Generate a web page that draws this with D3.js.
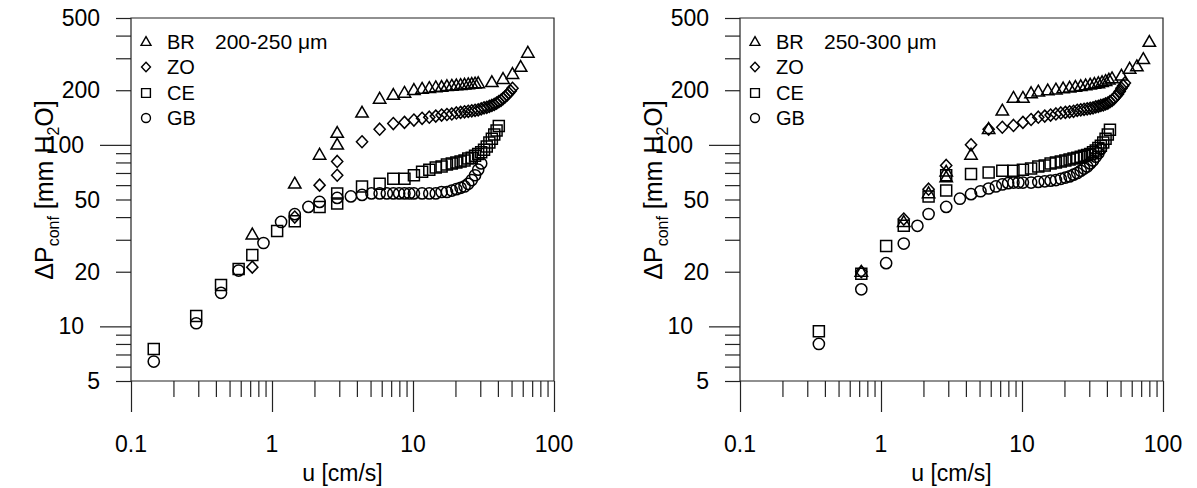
<!DOCTYPE html>
<html><head><meta charset="utf-8">
<script src="https://cdn.jsdelivr.net/npm/d3@7"></script>
<style>body{margin:0;background:#fff}svg{display:block;font-family:"Liberation Sans",Arial,sans-serif}</style>
</head><body><svg id="c" width="1197" height="488"></svg>
<script>
const seriesNames = ["BR","ZO","CE","GB"];
const panelTitles = ["200-250 \u03bcm","250-300 \u03bcm"];
const xTickValues = [0.1,1,10,100];
const xTickLabels = ["0.1","1","10","100"];
const yTickValues = [5,10,20,50,100,200,500];
const yTickLabels = ["5","10","20","50","100","200","500"];
const xTitle = "u [cm/s]";

// Left panel (200-250 um)
const L_BR_u = [0.725,1.45,2.175,2.9,2.9,4.35,5.8,7.25,8.7,10.15,11.6,13.05,14.5,15.95,17.4,18.85,20.3,21.75,23.2,24.65,26.1,27.55,29.0,36.25,43.5,50.75,58.0,65.25];
const L_BR_p = [32,61,88,100,116,150,179,188,193,200,203,205,207,208,210,211,212,213,214,215,216,217,218,221,230,245,268,321];
const L_ZO_u = [0.725,1.45,2.175,2.9,2.9,4.35,5.8,7.25,8.7,10.15,11.6,13.05,14.5,15.95,17.4,18.85,20.3,21.75,23.2,24.65,26.1,27.55,29.0,30.45,31.9,33.35,34.8,36.25,37.7,39.15,40.6,42.05,43.5,44.95,46.4,47.85,49.3,50.75];
const L_ZO_p = [21.2,40,60,68,81,104,122,131,133,137,140,142,144,146,147,148,150,151,152,153,154,155,156,158,160,161,163,165,167,170,173,176,180,184,188,193,198,205];
const L_CE_u = [0.145,0.29,0.435,0.58,0.725,1.0875,1.45,2.175,2.9,2.9,4.35,5.8,7.25,8.7,10.15,11.6,13.05,14.5,15.95,17.4,18.85,20.3,21.75,23.2,24.65,26.1,27.55,29.0,30.45,31.9,33.35,34.8,36.25,37.7,39.15,40.6];
const L_CE_p = [7.5,11.4,16.9,20.7,24.7,33.5,38,45.5,47.5,54,59,61,65,65,68,71,73,75,76,78,79,80,81,82,84,85,87,89,91,94,98,103,108,114,120,127];
const L_GB_u = [0.145,0.29,0.435,0.58,0.87,1.16,1.45,1.8125,2.175,2.9,3.625,4.35,5.075,5.8,6.525,7.25,7.975,8.7,9.425,10.15,11.6,13.05,14.5,15.95,17.4,18.85,20.3,21.75,23.2,24.65,26.1,27.55,29.0,30.45];
const L_GB_p = [6.4,10.4,15.3,20.3,28.8,37.6,41.5,45.5,48.5,51,52,53,54,54,54,54,54,54,54,54,54,54,54,55,55,56,57,58,59,61,64,68,73,79];

// Right panel (250-300 um)
const R_BR_u = [0.725,1.45,2.175,2.9,2.9,4.35,5.8,7.25,8.7,10.15,11.6,13.05,15.225,17.4,19.575,21.75,23.925,26.1,28.275,30.45,32.625,34.8,36.975,39.15,41.325,43.5,50.75,58.0,65.25,72.5,80.0];
const R_BR_p = [19.9,37.5,54,66,71,88,122,154,181,181,192,196,199,201,204,206,208,210,212,214,216,218,221,224,228,232,240,262,270,296,368];
const R_ZO_u = [0.725,1.45,2.175,2.9,4.35,5.8,7.25,8.7,10.15,11.6,13.05,14.5,15.95,17.4,18.85,20.3,21.75,23.2,24.65,26.1,27.55,29.0,30.45,31.9,33.35,34.8,36.25,37.7,39.15,40.6,42.05,43.5,44.95,46.4,47.85,49.3,50.75,52.2,53.65];
const R_ZO_p = [20,39,57,77,100,122,125,128,133,138,142,144,146,148,150,151,152,153,155,156,157,158,159,160,162,163,165,166,168,170,173,176,180,185,190,197,205,212,219];
const R_CE_u = [0.3625,0.725,1.0875,1.45,2.175,2.9,2.9,4.35,5.8,7.25,8.7,10.15,11.6,13.05,14.5,15.95,17.4,18.85,20.3,21.75,23.2,24.65,26.1,27.55,29.0,30.45,31.9,33.35,34.8,36.25,37.7,39.15,40.6,42.05];
const R_CE_p = [9.4,19.5,27.7,35.8,52,56,68,69,70.5,72,72,73,74,76,77,79,80,81,82,83,84,85,86,87,88,89,91,93,96,99,103,108,114,121];
const R_GB_u = [0.3625,0.725,1.0875,1.45,1.8125,2.175,2.9,3.625,4.35,5.075,5.8,6.525,7.25,7.975,8.7,9.425,10.15,11.6,13.05,14.5,15.95,17.4,18.85,20.3,21.75,23.2,24.65,26.1,27.55,29.0,30.45,31.9,33.35,34.8,36.25];
const R_GB_p = [8.0,16,22.3,28.6,35.8,41.6,45.5,50.5,53.5,55.5,57.5,59,60.5,61.5,62,62,62,62,62.5,63,63.5,64,65,66,67,68.5,70,72,74,76,79,82,86,90,95];

const panels = [
  {title: panelTitles[0], series: [[L_BR_u,L_BR_p],[L_ZO_u,L_ZO_p],[L_CE_u,L_CE_p],[L_GB_u,L_GB_p]], x0:131, x1:554},
  {title: panelTitles[1], series: [[R_BR_u,R_BR_p],[R_ZO_u,R_ZO_p],[R_CE_u,R_CE_p],[R_GB_u,R_GB_p]], x0:740, x1:1163}
];
const Y0 = 18, Y1 = 381;

function shapePath(k, s) {
  if (k === 0) return `M0,${-6.6*s}L${6.2*s},${4.2*s}L${-6.2*s},${4.2*s}Z`;
  if (k === 1) return `M0,${-6*s}L${5.6*s},0L0,${6*s}L${-5.6*s},0Z`;
  if (k === 2) return `M${-5.5*s},${-5.5*s}h${11*s}v${11*s}h${-11*s}Z`;
  const r = 5.6*s;
  return `M${r},0A${r},${r} 0 1,1 ${-r},0A${r},${r} 0 1,1 ${r},0Z`;
}

const svg = d3.select("#c");
const minorX = [];
[0.1,1,10].forEach(d => { for (let i=2;i<=9;i++) minorX.push(+(d*i).toFixed(3)); });
const minorY = [6,7,8,9,30,40,60,70,80,90,300,400];
const shortY = [5,20,50,200,500];

panels.forEach(P => {
  const x = d3.scaleLog().domain([0.1,100]).range([P.x0, P.x1]);
  const y = d3.scaleLog().domain([5,500]).range([Y1, Y0]);
  const g = svg.append("g");

  g.append("path").attr("d", `M${P.x0},${Y1}H${P.x1}V${Y0}H${P.x0}Z`).attr("fill","none").attr("stroke","#222").attr("stroke-width",1.2);

  const ax1 = g.append("g").attr("transform",`translate(0,${Y1})`).call(d3.axisBottom(x).tickValues(xTickValues).tickSize(31).tickFormat(""));
  const ax2 = g.append("g").attr("transform",`translate(0,${Y1})`).call(d3.axisBottom(x).tickValues(minorX).tickSize(16).tickFormat(""));
  const ay1 = g.append("g").attr("transform",`translate(${P.x0},0)`).call(d3.axisLeft(y).tickValues([10,100]).tickSize(31).tickFormat(""));
  const ay2 = g.append("g").attr("transform",`translate(${P.x0},0)`).call(d3.axisLeft(y).tickValues(shortY.concat(minorY)).tickSize(15).tickFormat(""));
  [ax1,ax2,ay1,ay2].forEach(a => { a.select(".domain").remove(); a.selectAll("line").attr("stroke","#222").attr("stroke-width",1.2); });

  g.selectAll(".xl").data(xTickValues).enter().append("text")
    .attr("x", d => x(d)).attr("y", Y1 + 71).attr("text-anchor","middle")
    .style("font-size","23px").text((d,i) => xTickLabels[i]);
  g.append("text").attr("x", (P.x0+P.x1)/2).attr("y", Y1 + 100).attr("text-anchor","middle")
    .style("font-size","23px").text(xTitle);

  g.selectAll(".yl").data(yTickValues).enter().append("text")
    .attr("x", d => P.x0 - ((d===10||d===100) ? 47 : 31))
    .attr("y", d => y(d) + 8).attr("text-anchor","end")
    .style("font-size","23px").text((d,i) => yTickLabels[i]);

  const t = g.append("text").attr("transform",`translate(${P.x0-78},${190}) rotate(-90)`).attr("text-anchor","middle").style("font-size","25px");
  t.append("tspan").text("\u0394P");
  t.append("tspan").attr("dy",6).style("font-size","16px").text("conf");
  t.append("tspan").attr("dy",-6).text(" [mm H");
  t.append("tspan").attr("dy",6).style("font-size","16px").text("2");
  t.append("tspan").attr("dy",-6).text("O]");

  P.series.forEach((s, k) => {
    const pts = s[0].map((u,i) => [u, s[1][i]]);
    g.append("g").selectAll("path").data(pts).enter().append("path")
      .attr("transform", d => `translate(${x(d[0])},${y(d[1])})`)
      .attr("d", shapePath(k, 1)).attr("fill","none").attr("stroke","#000").attr("stroke-width",1.5);
  });

  const lx = P.x0 + 15, ly = [42, 67, 93, 118];
  seriesNames.forEach((n,k) => {
    g.append("path").attr("transform",`translate(${lx},${ly[k]})`).attr("d", shapePath(k, 0.8))
      .attr("fill","none").attr("stroke","#000").attr("stroke-width",1.4);
    g.append("text").attr("x", lx + 21).attr("y", ly[k] + 7).style("font-size","20px").text(n);
  });
  g.append("text").attr("x", lx + 69).attr("y", ly[0] + 7).style("font-size","21px").text(P.title);
});
</script></body></html>
